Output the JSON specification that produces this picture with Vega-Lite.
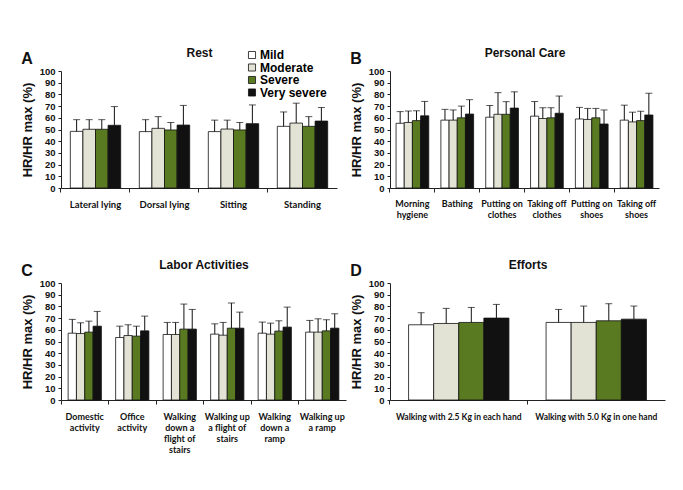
{
  "$schema": "https://vega.github.io/schema/vega-lite/v6.json",
  "padding": {"left": 21, "top": 46, "right": 5, "bottom": 5},
  "background": "white",
  "config": {
    "view": {"stroke": null},
    "font": "Liberation Sans",
    "axis": {"domainColor": "#222", "tickColor": "#222", "grid": false, "labelColor": "#111", "titleColor": "#111"},
    "title": {"anchor": "start", "fontSize": 16, "font": "Liberation Sans", "fontWeight": "bold", "color": "#111", "offset": -21}
  },
  "datasets": {
    "rest": [
      {"activity": "Lateral lying", "severity": "Mild", "mean": 48.4, "upper": 58.4},
      {"activity": "Lateral lying", "severity": "Moderate", "mean": 50.2, "upper": 58.4},
      {"activity": "Lateral lying", "severity": "Severe", "mean": 50.2, "upper": 58.4},
      {"activity": "Lateral lying", "severity": "Very severe", "mean": 53.6, "upper": 69.6},
      {"activity": "Dorsal lying", "severity": "Mild", "mean": 48.2, "upper": 58.4},
      {"activity": "Dorsal lying", "severity": "Moderate", "mean": 51.0, "upper": 61.0},
      {"activity": "Dorsal lying", "severity": "Severe", "mean": 49.6, "upper": 56.0},
      {"activity": "Dorsal lying", "severity": "Very severe", "mean": 53.8, "upper": 70.6},
      {"activity": "Sitting", "severity": "Mild", "mean": 48.2, "upper": 58.0},
      {"activity": "Sitting", "severity": "Moderate", "mean": 50.4, "upper": 58.0},
      {"activity": "Sitting", "severity": "Severe", "mean": 49.6, "upper": 56.0},
      {"activity": "Sitting", "severity": "Very severe", "mean": 55.0, "upper": 71.0},
      {"activity": "Standing", "severity": "Mild", "mean": 52.7, "upper": 65.0},
      {"activity": "Standing", "severity": "Moderate", "mean": 55.5, "upper": 72.5},
      {"activity": "Standing", "severity": "Severe", "mean": 52.7, "upper": 61.0},
      {"activity": "Standing", "severity": "Very severe", "mean": 57.2, "upper": 68.8}
    ],
    "care": [
      {"activity": "Morning hygiene", "severity": "Mild", "mean": 55.3, "upper": 65.3},
      {"activity": "Morning hygiene", "severity": "Moderate", "mean": 56.0, "upper": 65.8},
      {"activity": "Morning hygiene", "severity": "Severe", "mean": 57.6, "upper": 66.0},
      {"activity": "Morning hygiene", "severity": "Very severe", "mean": 61.7, "upper": 74.0},
      {"activity": "Bathing", "severity": "Mild", "mean": 58.0, "upper": 67.2},
      {"activity": "Bathing", "severity": "Moderate", "mean": 58.0, "upper": 66.7},
      {"activity": "Bathing", "severity": "Severe", "mean": 60.0, "upper": 70.0},
      {"activity": "Bathing", "severity": "Very severe", "mean": 63.2, "upper": 75.5},
      {"activity": "Putting on clothes", "severity": "Mild", "mean": 60.5, "upper": 70.5},
      {"activity": "Putting on clothes", "severity": "Moderate", "mean": 63.0, "upper": 81.5},
      {"activity": "Putting on clothes", "severity": "Severe", "mean": 63.0, "upper": 73.8},
      {"activity": "Putting on clothes", "severity": "Very severe", "mean": 68.3, "upper": 82.2},
      {"activity": "Taking off clothes", "severity": "Mild", "mean": 61.4, "upper": 73.9},
      {"activity": "Taking off clothes", "severity": "Moderate", "mean": 59.4, "upper": 68.6},
      {"activity": "Taking off clothes", "severity": "Severe", "mean": 60.0, "upper": 68.6},
      {"activity": "Taking off clothes", "severity": "Very severe", "mean": 63.9, "upper": 78.6},
      {"activity": "Putting on shoes", "severity": "Mild", "mean": 59.0, "upper": 68.9},
      {"activity": "Putting on shoes", "severity": "Moderate", "mean": 58.6, "upper": 68.0},
      {"activity": "Putting on shoes", "severity": "Severe", "mean": 60.0, "upper": 68.0},
      {"activity": "Putting on shoes", "severity": "Very severe", "mean": 54.7, "upper": 66.7},
      {"activity": "Taking off shoes", "severity": "Mild", "mean": 58.0, "upper": 70.8},
      {"activity": "Taking off shoes", "severity": "Moderate", "mean": 56.5, "upper": 64.8},
      {"activity": "Taking off shoes", "severity": "Severe", "mean": 57.6, "upper": 65.6},
      {"activity": "Taking off shoes", "severity": "Very severe", "mean": 62.4, "upper": 81.0}
    ],
    "labor": [
      {"activity": "Domestic activity", "severity": "Mild", "mean": 57.1, "upper": 68.9},
      {"activity": "Domestic activity", "severity": "Moderate", "mean": 56.8, "upper": 66.0},
      {"activity": "Domestic activity", "severity": "Severe", "mean": 58.0, "upper": 67.4},
      {"activity": "Domestic activity", "severity": "Very severe", "mean": 63.1, "upper": 75.7},
      {"activity": "Office activity", "severity": "Mild", "mean": 53.4, "upper": 63.1},
      {"activity": "Office activity", "severity": "Moderate", "mean": 55.1, "upper": 64.3},
      {"activity": "Office activity", "severity": "Severe", "mean": 54.6, "upper": 63.1},
      {"activity": "Office activity", "severity": "Very severe", "mean": 59.1, "upper": 71.7},
      {"activity": "Walking down a flight of stairs", "severity": "Mild", "mean": 56.0, "upper": 66.3},
      {"activity": "Walking down a flight of stairs", "severity": "Moderate", "mean": 56.0, "upper": 66.3},
      {"activity": "Walking down a flight of stairs", "severity": "Severe", "mean": 60.6, "upper": 82.0},
      {"activity": "Walking down a flight of stairs", "severity": "Very severe", "mean": 60.6, "upper": 77.4},
      {"activity": "Walking up a flight of stairs", "severity": "Mild", "mean": 56.3, "upper": 65.1},
      {"activity": "Walking up a flight of stairs", "severity": "Moderate", "mean": 55.4, "upper": 66.3},
      {"activity": "Walking up a flight of stairs", "severity": "Severe", "mean": 61.4, "upper": 82.9},
      {"activity": "Walking up a flight of stairs", "severity": "Very severe", "mean": 61.4, "upper": 75.1},
      {"activity": "Walking down a ramp", "severity": "Mild", "mean": 57.1, "upper": 66.6},
      {"activity": "Walking down a ramp", "severity": "Moderate", "mean": 56.3, "upper": 65.7},
      {"activity": "Walking down a ramp", "severity": "Severe", "mean": 58.9, "upper": 67.7},
      {"activity": "Walking down a ramp", "severity": "Very severe", "mean": 62.3, "upper": 79.4},
      {"activity": "Walking up a ramp", "severity": "Mild", "mean": 58.0, "upper": 68.0},
      {"activity": "Walking up a ramp", "severity": "Moderate", "mean": 58.0, "upper": 69.4},
      {"activity": "Walking up a ramp", "severity": "Severe", "mean": 59.1, "upper": 68.6},
      {"activity": "Walking up a ramp", "severity": "Very severe", "mean": 61.4, "upper": 73.7}
    ],
    "efforts": [
      {"activity": "Walking with 2.5 Kg in each hand", "severity": "Mild", "mean": 64.3, "upper": 74.6},
      {"activity": "Walking with 2.5 Kg in each hand", "severity": "Moderate", "mean": 65.4, "upper": 78.3},
      {"activity": "Walking with 2.5 Kg in each hand", "severity": "Severe", "mean": 66.3, "upper": 79.1},
      {"activity": "Walking with 2.5 Kg in each hand", "severity": "Very severe", "mean": 70.0, "upper": 81.7},
      {"activity": "Walking with 5.0 Kg in one hand", "severity": "Mild", "mean": 66.3, "upper": 77.4},
      {"activity": "Walking with 5.0 Kg in one hand", "severity": "Moderate", "mean": 66.3, "upper": 80.3},
      {"activity": "Walking with 5.0 Kg in one hand", "severity": "Severe", "mean": 67.7, "upper": 82.3},
      {"activity": "Walking with 5.0 Kg in one hand", "severity": "Very severe", "mean": 69.1, "upper": 80.3}
    ]
  },
  "columns": 2,
  "spacing": {"row": 39, "column": 4},
  "resolve": {"scale": {"color": "independent", "xOffset": "independent", "x": "independent", "y": "independent"}, "legend": {"color": "independent"}},
  "concat": [
    {
      "width": 276, "height": 117,
      "data": {"name": "rest"},
      "title": {"text": "A"},
      "resolve": {"axis": {"x": "independent", "y": "independent"}},
      "layer": [
        {
          "mark": {"type": "bar", "stroke": "#111", "strokeWidth": 0.8},
          "encoding": {
            "x": {"field": "activity", "type": "nominal", "sort": null, "scale": {"paddingInner": 0.27, "paddingOuter": 0.135},
              "axis": {"title": null, "labelAngle": 0, "labelFont": "Lato", "labelFontWeight": "bold", "labelFontSize": 9.5, "labelPadding": 7, "tickSize": 4, "bandPosition": -0.185, "labelOverlap": false}},
            "xOffset": {"field": "severity", "sort": ["Mild", "Moderate", "Severe", "Very severe"], "scale": {"paddingInner": 0, "paddingOuter": 0}},
            "y": {"field": "mean", "type": "quantitative", "scale": {"domain": [0, 100]},
              "axis": {"values": [0, 10, 20, 30, 40, 50, 60, 70, 80, 90, 100], "tickCount": 11, "labelOverlap": false, "title": "HR/HR max (%)", "titleFontSize": 13, "titleFontWeight": "bold", "titlePadding": 5, "labelFontWeight": "bold", "labelFontSize": 9.5, "tickSize": 3, "labelPadding": 3}},
            "color": {"field": "severity", "type": "nominal",
              "scale": {"domain": ["Mild", "Moderate", "Severe", "Very severe"], "range": ["#ffffff", "#e3e3d5", "#5a7a22", "#111111"]},
              "legend": {"title": null, "orient": "none", "legendX": 185, "legendY": -22, "symbolType": "square", "symbolSize": 50, "symbolStrokeColor": "#111", "symbolStrokeWidth": 0.8, "labelFontSize": 12, "labelFontWeight": "bold", "labelFont": "Liberation Sans", "rowPadding": 0.5, "labelOffset": 2}}
          }
        },
        {
          "mark": {"type": "rule", "color": "#111", "strokeWidth": 1},
          "encoding": {
            "x": {"field": "activity", "type": "nominal", "sort": null, "axis": null},
            "xOffset": {"field": "severity", "sort": ["Mild", "Moderate", "Severe", "Very severe"]},
            "y": {"field": "mean", "type": "quantitative", "axis": null},
            "y2": {"field": "upper"}
          }
        },
        {
          "mark": {"type": "tick", "color": "#111", "size": 7, "thickness": 1, "orient": "horizontal"},
          "encoding": {
            "x": {"field": "activity", "type": "nominal", "sort": null,
              "axis": {"orient": "top", "title": "Rest", "labels": false, "ticks": false, "domain": false, "titleFontSize": 12, "titleFontWeight": "bold", "titlePadding": 12}},
            "xOffset": {"field": "severity", "sort": ["Mild", "Moderate", "Severe", "Very severe"]},
            "y": {"field": "upper", "type": "quantitative", "axis": null}
          }
        }
      ]
    },
    {
      "width": 269, "height": 117,
      "data": {"name": "care"},
      "title": {"text": "B"},
      "resolve": {"axis": {"x": "independent", "y": "independent"}},
      "layer": [
        {
          "mark": {"type": "bar", "stroke": "#111", "strokeWidth": 0.8},
          "encoding": {
            "x": {"field": "activity", "type": "nominal", "sort": null, "scale": {"paddingInner": 0.27, "paddingOuter": 0.135},
              "axis": {"title": null, "labelAngle": 0, "labelFont": "Lato", "labelFontWeight": "bold", "labelFontSize": 9, "labelPadding": 7, "tickSize": 4, "bandPosition": -0.185, "labelLineHeight": 11, "labelOverlap": false,
                "labelExpr": "datum.value == 'Morning hygiene' ? ['Morning', 'hygiene'] : datum.value == 'Putting on clothes' ? ['Putting on', 'clothes'] : datum.value == 'Taking off clothes' ? ['Taking off', 'clothes'] : datum.value == 'Putting on shoes' ? ['Putting on', 'shoes'] : datum.value == 'Taking off shoes' ? ['Taking off', 'shoes'] : datum.value"}},
            "xOffset": {"field": "severity", "sort": ["Mild", "Moderate", "Severe", "Very severe"], "scale": {"paddingInner": 0, "paddingOuter": 0}},
            "y": {"field": "mean", "type": "quantitative", "scale": {"domain": [0, 100]},
              "axis": {"values": [0, 10, 20, 30, 40, 50, 60, 70, 80, 90, 100], "tickCount": 11, "labelOverlap": false, "title": "HR/HR max (%)", "titleFontSize": 13, "titleFontWeight": "bold", "titlePadding": 5, "labelFontWeight": "bold", "labelFontSize": 9.5, "tickSize": 3, "labelPadding": 3}},
            "color": {"field": "severity", "type": "nominal",
              "scale": {"domain": ["Mild", "Moderate", "Severe", "Very severe"], "range": ["#ffffff", "#e3e3d5", "#5a7a22", "#111111"]},
              "legend": null}
          }
        },
        {
          "mark": {"type": "rule", "color": "#111", "strokeWidth": 1},
          "encoding": {
            "x": {"field": "activity", "type": "nominal", "sort": null, "axis": null},
            "xOffset": {"field": "severity", "sort": ["Mild", "Moderate", "Severe", "Very severe"]},
            "y": {"field": "mean", "type": "quantitative", "axis": null},
            "y2": {"field": "upper"}
          }
        },
        {
          "mark": {"type": "tick", "color": "#111", "size": 7, "thickness": 1, "orient": "horizontal"},
          "encoding": {
            "x": {"field": "activity", "type": "nominal", "sort": null,
              "axis": {"orient": "top", "title": "Personal Care", "labels": false, "ticks": false, "domain": false, "titleFontSize": 12, "titleFontWeight": "bold", "titlePadding": 12}},
            "xOffset": {"field": "severity", "sort": ["Mild", "Moderate", "Severe", "Very severe"]},
            "y": {"field": "upper", "type": "quantitative", "axis": null}
          }
        }
      ]
    },
    {
      "width": 285, "height": 117,
      "data": {"name": "labor"},
      "title": {"text": "C"},
      "resolve": {"axis": {"x": "independent", "y": "independent"}},
      "layer": [
        {
          "mark": {"type": "bar", "stroke": "#111", "strokeWidth": 0.8},
          "encoding": {
            "x": {"field": "activity", "type": "nominal", "sort": null, "scale": {"paddingInner": 0.3, "paddingOuter": 0.15},
              "axis": {"title": null, "labelAngle": 0, "labelFont": "Lato", "labelFontWeight": "bold", "labelFontSize": 9, "labelPadding": 8, "tickSize": 4, "bandPosition": -0.21, "labelLineHeight": 11, "labelOverlap": false,
                "labelExpr": "datum.value == 'Domestic activity' ? ['Domestic', 'activity'] : datum.value == 'Office activity' ? ['Office', 'activity'] : datum.value == 'Walking down a flight of stairs' ? ['Walking', 'down a', 'flight of', 'stairs'] : datum.value == 'Walking up a flight of stairs' ? ['Walking up', 'a flight of', 'stairs'] : datum.value == 'Walking down a ramp' ? ['Walking', 'down a', 'ramp'] : datum.value == 'Walking up a ramp' ? ['Walking up', 'a ramp'] : datum.value"}},
            "xOffset": {"field": "severity", "sort": ["Mild", "Moderate", "Severe", "Very severe"], "scale": {"paddingInner": 0, "paddingOuter": 0}},
            "y": {"field": "mean", "type": "quantitative", "scale": {"domain": [0, 100]},
              "axis": {"values": [0, 10, 20, 30, 40, 50, 60, 70, 80, 90, 100], "tickCount": 11, "labelOverlap": false, "title": "HR/HR max (%)", "titleFontSize": 13, "titleFontWeight": "bold", "titlePadding": 5, "labelFontWeight": "bold", "labelFontSize": 9.5, "tickSize": 3, "labelPadding": 3}},
            "color": {"field": "severity", "type": "nominal",
              "scale": {"domain": ["Mild", "Moderate", "Severe", "Very severe"], "range": ["#ffffff", "#e3e3d5", "#5a7a22", "#111111"]},
              "legend": null}
          }
        },
        {
          "mark": {"type": "rule", "color": "#111", "strokeWidth": 1},
          "encoding": {
            "x": {"field": "activity", "type": "nominal", "sort": null, "axis": null},
            "xOffset": {"field": "severity", "sort": ["Mild", "Moderate", "Severe", "Very severe"]},
            "y": {"field": "mean", "type": "quantitative", "axis": null},
            "y2": {"field": "upper"}
          }
        },
        {
          "mark": {"type": "tick", "color": "#111", "size": 7, "thickness": 1, "orient": "horizontal"},
          "encoding": {
            "x": {"field": "activity", "type": "nominal", "sort": null,
              "axis": {"orient": "top", "title": "Labor Activities", "labels": false, "ticks": false, "domain": false, "titleFontSize": 12, "titleFontWeight": "bold", "titlePadding": 12}},
            "xOffset": {"field": "severity", "sort": ["Mild", "Moderate", "Severe", "Very severe"]},
            "y": {"field": "upper", "type": "quantitative", "axis": null}
          }
        }
      ]
    },
    {
      "width": 275, "height": 117,
      "data": {"name": "efforts"},
      "title": {"text": "D"},
      "resolve": {"axis": {"x": "independent", "y": "independent"}},
      "layer": [
        {
          "mark": {"type": "bar", "stroke": "#111", "strokeWidth": 0.8},
          "encoding": {
            "x": {"field": "activity", "type": "nominal", "sort": null, "scale": {"paddingInner": 0.27, "paddingOuter": 0.135},
              "axis": {"title": null, "labelAngle": 0, "labelFont": "Lato", "labelFontWeight": "bold", "labelFontSize": 8.5, "labelPadding": 8, "tickSize": 4, "bandPosition": -0.185, "labelOverlap": false}},
            "xOffset": {"field": "severity", "sort": ["Mild", "Moderate", "Severe", "Very severe"], "scale": {"paddingInner": 0, "paddingOuter": 0}},
            "y": {"field": "mean", "type": "quantitative", "scale": {"domain": [0, 100]},
              "axis": {"values": [0, 10, 20, 30, 40, 50, 60, 70, 80, 90, 100], "tickCount": 11, "labelOverlap": false, "title": "HR/HR max (%)", "titleFontSize": 13, "titleFontWeight": "bold", "titlePadding": 5, "labelFontWeight": "bold", "labelFontSize": 9.5, "tickSize": 3, "labelPadding": 3}},
            "color": {"field": "severity", "type": "nominal",
              "scale": {"domain": ["Mild", "Moderate", "Severe", "Very severe"], "range": ["#ffffff", "#e3e3d5", "#5a7a22", "#111111"]},
              "legend": null}
          }
        },
        {
          "mark": {"type": "rule", "color": "#111", "strokeWidth": 1},
          "encoding": {
            "x": {"field": "activity", "type": "nominal", "sort": null, "axis": null},
            "xOffset": {"field": "severity", "sort": ["Mild", "Moderate", "Severe", "Very severe"]},
            "y": {"field": "mean", "type": "quantitative", "axis": null},
            "y2": {"field": "upper"}
          }
        },
        {
          "mark": {"type": "tick", "color": "#111", "size": 7, "thickness": 1, "orient": "horizontal"},
          "encoding": {
            "x": {"field": "activity", "type": "nominal", "sort": null,
              "axis": {"orient": "top", "title": "Efforts", "labels": false, "ticks": false, "domain": false, "titleFontSize": 12, "titleFontWeight": "bold", "titlePadding": 12}},
            "xOffset": {"field": "severity", "sort": ["Mild", "Moderate", "Severe", "Very severe"]},
            "y": {"field": "upper", "type": "quantitative", "axis": null}
          }
        }
      ]
    }
  ]
}
